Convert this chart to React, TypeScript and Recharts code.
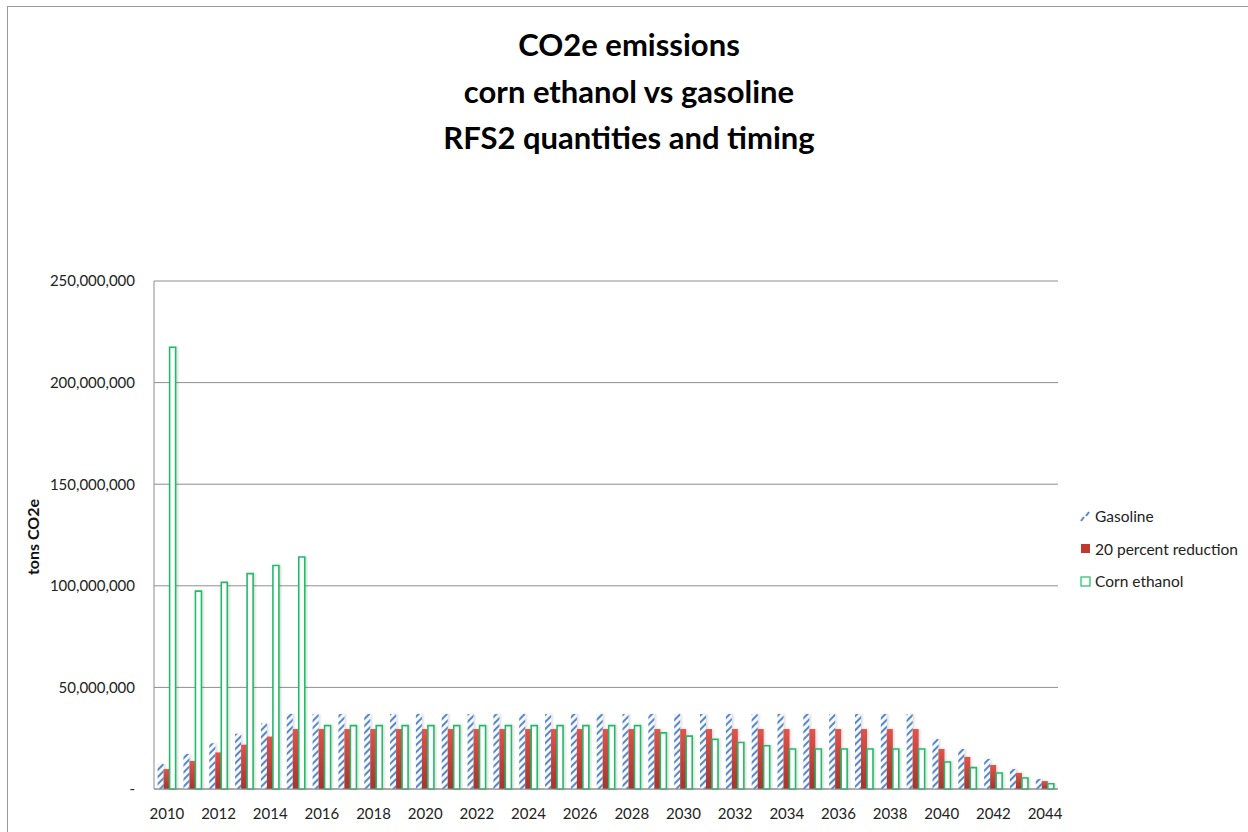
import { BarChart, Bar, XAxis, YAxis, CartesianGrid } from 'recharts';

// Emissions by year, in millions of tons CO2e
const YEARS = [
  '2010', '2011', '2012', '2013', '2014', '2015', '2016', '2017', '2018', '2019',
  '2020', '2021', '2022', '2023', '2024', '2025', '2026', '2027', '2028', '2029',
  '2030', '2031', '2032', '2033', '2034', '2035', '2036', '2037', '2038', '2039',
  '2040', '2041', '2042', '2043', '2044',
];

const GASOLINE = [
  12.3, 17.2, 22.5, 27.2, 32.3, 36.9, 36.9, 36.9, 36.9, 36.9,
  36.9, 36.9, 36.9, 36.9, 36.9, 36.9, 36.9, 36.9, 36.9, 36.9,
  36.9, 36.9, 36.9, 36.9, 36.9, 36.9, 36.9, 36.9, 36.9, 36.9,
  24.6, 19.7, 14.8, 9.8, 4.9,
];

const REDUCTION_20 = [
  9.8, 13.8, 18.0, 21.8, 25.8, 29.5, 29.5, 29.5, 29.5, 29.5,
  29.5, 29.5, 29.5, 29.5, 29.5, 29.5, 29.5, 29.5, 29.5, 29.5,
  29.5, 29.5, 29.5, 29.5, 29.5, 29.5, 29.5, 29.5, 29.5, 29.5,
  19.7, 15.8, 11.8, 7.9, 3.9,
];

const CORN_ETHANOL = [
  217.4, 97.4, 101.7, 106.0, 110.0, 114.2, 31.2, 31.2, 31.2, 31.2,
  31.2, 31.2, 31.2, 31.2, 31.2, 31.2, 31.2, 31.2, 31.2, 27.6,
  26.0, 24.4, 22.9, 21.3, 19.7, 19.7, 19.7, 19.7, 19.7, 19.7,
  13.3, 10.5, 7.9, 5.4, 2.6,
];

const Y_TICKS = [0, 50, 100, 150, 200, 250];

const TITLE_LINES = ['CO2e emissions', 'corn ethanol vs gasoline', 'RFS2 quantities and timing'];

const data = YEARS.map((year, i) => ({
  year,
  gasoline: GASOLINE[i],
  reduction: REDUCTION_20[i],
  corn: CORN_ETHANOL[i],
}));

const FONT = 'Lato, "Open Sans", sans-serif';
const BLUE = '#5588cc';
const GREEN = '#22bb6a';

const fmtTons = (v: number) => (v === 0 ? '-' : (v * 1e6).toLocaleString('en-US'));

function LegendBox() {
  const items = [
    { name: 'Gasoline', kind: 'hatch' },
    { name: '20 percent reduction', kind: 'solid' },
    { name: 'Corn ethanol', kind: 'outline' },
  ];
  return (
    <div style={{ position: 'absolute', left: 1080, top: 500, fontFamily: FONT, fontSize: 15.5, color: '#222' }}>
      {items.map((it) => (
        <div key={it.name} style={{ display: 'flex', alignItems: 'center', height: 32.5 }}>
          <svg width={11} height={11} style={{ marginRight: 4 }}>
            {it.kind === 'hatch' && (
              <g stroke={BLUE} strokeWidth={2}>
                <line x1={1} y1={10} x2={4} y2={6} />
                <line x1={6} y1={5} x2={9} y2={1} />
              </g>
            )}
            {it.kind === 'solid' && <rect x={1} y={1} width={9} height={9} fill="#c0392f" />}
            {it.kind === 'outline' && <rect x={1} y={1} width={9} height={9} fill="#fff" stroke={GREEN} strokeWidth={1.2} />}
          </svg>
          <span>{it.name}</span>
        </div>
      ))}
    </div>
  );
}

export default function App() {
  return (
    <div style={{ position: 'absolute', left: 0, top: 0, width: 1248, height: 832, overflow: 'hidden', background: '#fff' }}>
      <div style={{ position: 'absolute', left: 7, top: 6, width: 1300, height: 900, border: '1px solid #999' }} />

      <svg width={1248} height={170} style={{ position: 'absolute', left: 0, top: 0 }}>
        {TITLE_LINES.map((t, i) => (
          <text key={t} x={629} y={56 + i * 46.5} textAnchor="middle" fontFamily={FONT} fontWeight={700} fontSize={31} fill="#000">
            {t}
          </text>
        ))}
      </svg>

      <div style={{ position: 'absolute', left: 0, top: 0 }}>
        <BarChart
          width={1248}
          height={832}
          data={data}
          margin={{ top: 281, right: 190, bottom: 13, left: 14 }}
          barCategoryGap="14%"
          barGap={0}
        >
          <defs>
            <pattern id="gasHatch" patternUnits="userSpaceOnUse" width={5} height={5} patternTransform="rotate(45)">
              <rect width={5} height={5} fill="#f7f8fa" />
              <rect width={2} height={5} fill={BLUE} />
            </pattern>
            <linearGradient id="redFill" x1="0" y1="0" x2="0" y2="1">
              <stop offset="0%" stopColor="#e0544b" />
              <stop offset="100%" stopColor="#a2362f" />
            </linearGradient>
            <filter id="barShadow" x="-50%" y="-10%" width="200%" height="120%">
              <feDropShadow dx={1.5} dy={0} stdDeviation={0.8} floodColor="#000" floodOpacity={0.15} />
            </filter>
          </defs>
          <CartesianGrid vertical={false} stroke="#8f8f8f" />
          <XAxis
            dataKey="year"
            interval={1}
            tickLine={false}
            axisLine={{ stroke: '#8c8c8c' }}
            tick={{ fontSize: 15, fill: '#222', fontFamily: FONT }}
            tickMargin={13}
            height={30}
          />
          <YAxis
            width={140}
            domain={[0, 250]}
            ticks={Y_TICKS}
            tickFormatter={fmtTons}
            tickLine={false}
            axisLine={{ stroke: '#8c8c8c' }}
            tick={{ fontSize: 15, fill: '#222', fontFamily: FONT }}
            tickMargin={13}
            label={{
              content: () => (
                <text x={39} y={537} transform="rotate(-90 39 537)" textAnchor="middle" fontFamily={FONT} fontWeight={700} fontSize={16} fill="#111">
                  tons CO2e
                </text>
              ),
            }}
          />
          <Bar dataKey="gasoline" name="Gasoline" fill="url(#gasHatch)" filter="url(#barShadow)" isAnimationActive={false} />
          <Bar dataKey="reduction" name="20 percent reduction" fill="url(#redFill)" filter="url(#barShadow)" isAnimationActive={false} />
          <Bar dataKey="corn" name="Corn ethanol" fill="#fff" stroke={GREEN} strokeWidth={1.6} filter="url(#barShadow)" isAnimationActive={false} />
        </BarChart>
      </div>

      <LegendBox />
    </div>
  );
}
